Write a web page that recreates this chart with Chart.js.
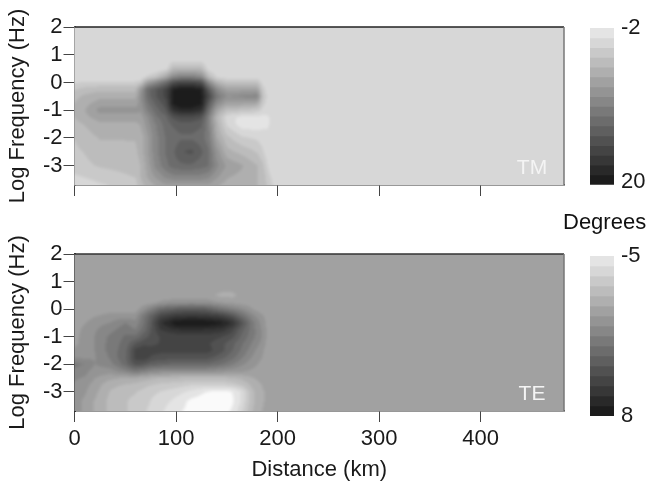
<!DOCTYPE html>
<html>
<head>
<meta charset="utf-8">
<script src="https://cdn.jsdelivr.net/npm/chart.js@4"></script>
<style>
  html, body { margin: 0; padding: 0; background: #fff; width: 648px; height: 483px; overflow: hidden; }
  canvas { position: absolute; }
  #degrees { position: absolute; left: 563px; top: 209px; font: 22px "Liberation Sans"; color: #111; white-space: nowrap; }
</style>
</head>
<body>
<canvas id="tmPanel" style="left:0;top:0"></canvas>
<canvas id="tePanel" style="left:0;top:230px"></canvas>
<canvas id="tmBar" style="left:580px;top:0"></canvas>
<canvas id="teBar" style="left:580px;top:230px"></canvas>
<div id="degrees">Degrees</div>
<script>
const xTicks = [0, 100, 200, 300, 400];
const yTicks = [2, 1, 0, -1, -2, -3];
const xMax = 482;
const yMin = -3.7;
const yMax = 2;

// one grey per colour bar band, light to dark
const bandGreys = [228, 215, 201, 188, 175, 161, 148, 135, 121, 108, 95, 81, 68, 55, 41, 28];
const belowRangeGrey = 250;
const tmLevels = [-2, -0.625, 0.75, 2.125, 3.5, 4.875, 6.25, 7.625, 9, 10.375, 11.75, 13.125, 14.5, 15.875, 17.25, 18.625, 20];
const teLevels = [-5, -4.1875, -3.375, -2.5625, -1.75, -0.9375, -0.125, 0.6875, 1.5, 2.3125, 3.125, 3.9375, 4.75, 5.5625, 6.375, 7.1875, 8];

const tmDistance = [0, 10, 25, 45, 60, 65, 72, 80, 90, 97, 105, 115, 125, 132, 140, 150, 165, 180, 185, 192, 200, 482];
const tmLogFreq = [2, 1, 0.8, 0.5, 0.2, 0, -0.25, -0.5, -0.75, -1, -1.25, -1.5, -2, -2.5, -3, -3.4, -3.7];
const tmPhase = [
  [-.6, -.6, -.6, -.6, -.6, -.6, -.6, -.6, -.6, -.6, -.6, -.6, -.6, -.6, -.6, -.6, -.6, -.6, -.6, -.6, -.6, -.6],
  [-.6, -.6, -.6, -.6, -.6, -.6, -.6, -.6, -.6, -.6, -.6, -.6, -.6, -.6, -.6, -.6, -.6, -.6, -.6, -.6, -.6, -.6],
  [-.6, -.6, -.6, -.6, -.6, -.6, -.6, -.6, -.6, .2, .2, .2, .2, -.6, -.6, -.6, -.6, -.6, -.6, -.6, -.6, -.6],
  [-.6, -.6, -.6, -.6, -.6, -.6, -.6, -.6, 0, 3, 3, 3, 3, 0, -.6, -.6, -.6, -.6, -.6, -.6, -.6, -.6],
  [-.6, -.6, -.6, -.6, -.6, -.6, 1, 2, 5, 8, 9, 9, 8, 3, .5, 0, 0, -.2, -.6, -.6, -.6, -.6],
  [.6, .9, 1, 1, 1, 1.5, 6, 8, 11, 14, 15, 15, 14, 8, 4, 2.2, 2.2, 2.2, .3, -.6, -.6, -.6],
  [2, 2.6, 3, 3, 3, 6.5, 11, 13, 15, 18.5, 19.5, 19.5, 18.5, 13, 8, 5.5, 5.5, 5.5, 1.5, -.6, -.6, -.6],
  [3, 3.8, 4.5, 4.5, 4.5, 7, 11, 13, 15, 19, 20, 20, 19, 15, 10, 7.5, 8, 8.5, 2.5, -.6, -.6, -.6],
  [3.5, 4.4, 5.5, 5.5, 5.5, 7, 10, 12, 14, 19, 20, 20, 19, 13, 8, 5.5, 5.5, 5, 1.5, -.6, -.6, -.6],
  [3.8, 4.8, 6.8, 6.8, 6.8, 6.5, 9, 11, 13, 17, 18, 18, 17, 11, 5.5, 2.5, 2.2, 1.5, .3, -.6, -.6, -.6],
  [3.5, 4.5, 5.6, 5.6, 5.6, 5.5, 7.5, 10, 11.5, 13.5, 14.5, 14.5, 13.5, 9, 3.5, 0, -1, -1, -1, -.6, -.6, -.6],
  [3, 3.6, 4.6, 4.6, 4.6, 5, 7, 9, 11, 12, 12.5, 12.5, 12, 9, 4, .5, -1.5, -1.5, -1, -.6, -.6, -.6],
  [2.2, 2.8, 3.6, 3.6, 3.6, 4, 6, 8.5, 10.5, 11, 11.5, 11.5, 11, 9.5, 5, 2.5, 1, .5, 0, -.6, -.6, -.6],
  [1.8, 2.2, 2.8, 3, 3.2, 4, 6, 8.5, 10.5, 11.5, 13, 13.5, 12, 10.5, 7, 4, 3, 2, 1, -.6, -.6, -.6],
  [1.2, 1.8, 2.3, 2.6, 2.8, 3.5, 5.5, 8, 10, 11, 11.5, 11.5, 11, 10.5, 8, 6, 5, 3.5, 2.5, 0, -.6, -.6],
  [.6, .8, 1.2, 1.8, 2.2, 3.5, 5, 6.5, 8, 8.5, 8.5, 8.5, 8.5, 8, 6.5, 5, 4.5, 3.5, 3, 1, -.6, -.6],
  [.2, .2, .6, 1, 1.5, 3, 4, 5, 6, 6, 6, 6, 6, 6, 5, 4.5, 4, 3.5, 3, 1.5, -.6, -.6]
];

const teDistance = [0, 10, 20, 35, 50, 60, 68, 75, 85, 100, 115, 130, 145, 155, 165, 175, 183, 190, 200, 482];
const teLogFreq = [2, 0.75, 0.5, 0.25, 0, -0.25, -0.5, -0.75, -1, -1.25, -1.5, -1.75, -2, -2.25, -2.5, -2.75, -3, -3.35, -3.7];
const tePhase = [
  [-.6, -.6, -.6, -.6, -.6, -.6, -.6, -.6, -.6, -.6, -.6, -.6, -.6, -.6, -.6, -.6, -.6, -.6, -.6, -.6],
  [-.6, -.6, -.6, -.6, -.6, -.6, -.6, -.6, -.6, -.6, -.6, -.6, -.6, -.6, -.6, -.6, -.6, -.6, -.6, -.6],
  [-.6, -.6, -.6, -.6, -.6, -.6, -.6, -.6, -.6, -.6, -.6, -.6, -1.2, -1.2, -.6, -.6, -.6, -.6, -.6, -.6],
  [-.6, -.6, -.6, -.6, -.6, -.6, -.6, -.6, 0, .3, .4, .3, -.2, -.4, -.6, -.6, -.6, -.6, -.6, -.6],
  [-.6, -.6, -.6, -.6, -.6, -.6, .4, 1.5, 2.8, 3.5, 3.8, 3.5, 2.2, 1.5, .8, -.1, -.6, -.6, -.6, -.6],
  [-.6, -.6, -.2, .2, .2, .2, 2, 3.2, 5, 5.8, 6, 5.8, 5.3, 4.2, 2.5, 1, .2, -.5, -.6, -.6],
  [-.5, -.2, .4, .7, 1.5, 1, 2.2, 3.8, 6.3, 7.8, 8, 7.9, 7.3, 6.3, 4.2, 1.8, .6, -.4, -.6, -.6],
  [-.5, .1, .6, 1.2, 2, 1.5, 2.6, 3.9, 5.6, 6.3, 6.4, 6.3, 6, 5, 3.3, 1.9, .8, -.3, -.6, -.6],
  [-.4, .2, .7, 1.7, 2.4, 2.5, 3.5, 4.2, 4.8, 5, 5.1, 5.2, 4.8, 4.2, 2.9, 1.8, .9, -.3, -.6, -.6],
  [-.3, .2, .7, 1.8, 2.6, 4, 4.5, 4.6, 4.8, 4.8, 4.9, 4.9, 4.2, 3.4, 2.4, 1.4, .6, -.4, -.6, -.6],
  [0, .3, .7, 1.8, 2.8, 5, 5.4, 5, 5, 5.1, 5.1, 5.1, 4.2, 3.2, 2.1, 1, .2, -.5, -.6, -.6],
  [.5, .5, .6, 1.6, 3, 5, 5.3, 4.7, 4.4, 4.3, 4.3, 4.3, 3.4, 2.6, 1.6, .6, 0, -.5, -.6, -.6],
  [1.7, 1.5, .7, 1.2, 2.7, 4.2, 4, 3.4, 3.1, 2.9, 2.9, 2.9, 2.3, 1.6, .8, .2, -.3, -.6, -.6, -.6],
  [1.3, 1, .3, .3, 1.2, 2, 1.5, 1, .8, .7, .7, .7, .4, .2, 0, -.3, -.5, -.6, -.6, -.6],
  [.8, .6, -.1, -.7, -1, -1, -1.3, -1.5, -1.8, -1.9, -2, -2, -2, -1.8, -1.5, -1, -.7, -.6, -.6, -.6],
  [.6, .2, -.5, -1.5, -1.8, -2, -2.3, -2.5, -2.8, -3, -3.3, -3.3, -3.3, -3, -2.5, -1.5, -1, -.6, -.6, -.6],
  [.4, 0, -.7, -1.8, -2.3, -2.5, -2.8, -3.2, -3.4, -3.8, -4.4, -5.2, -5.5, -5.2, -4, -2, -1.2, -.7, -.6, -.6],
  [.2, -.3, -1, -2, -2.5, -2.8, -3, -3.4, -3.7, -4.5, -5.5, -6, -6, -5.5, -4, -2, -1.2, -.7, -.6, -.6],
  [.2, -.3, -1, -2, -2.5, -2.8, -3.2, -3.6, -4, -5, -5.5, -6, -6, -5, -3.5, -1.8, -1, -.7, -.6, -.6]
];

const fontName = '"Liberation Sans"';
const fontSize = 22;
const inkColor = '#1a1a1a';

function findSpan(list, value) {
  // list may run up or down
  for (let i = 0; i < list.length - 1; i++) {
    const a = list[i];
    const b = list[i + 1];
    if ((value >= a && value <= b) || (value <= a && value >= b)) {
      return [i, (value - a) / (b - a)];
    }
  }
  return value > list[0] === list[0] > list[1] ? [0, 0] : [list.length - 2, 1];
}

function greyFor(value, levels) {
  if (value < levels[0] - 0.2) {
    return belowRangeGrey;
  }
  for (let i = 0; i < bandGreys.length; i++) {
    if (value < levels[i + 1]) {
      return bandGreys[i];
    }
  }
  return bandGreys[bandGreys.length - 1];
}

// filled contour image of the phase grid, placed through the chart scales
const contourPlugin = {
  id: 'contour',
  beforeDatasetsDraw(chart, args, opts) {
    const { ctx, chartArea: area } = chart;
    const xScale = chart.scales.x;
    const yScale = chart.scales.y;
    const margin = 3;
    const w = Math.ceil(area.right - area.left) + margin * 2;
    const h = Math.ceil(area.bottom - area.top) + margin * 2;
    const off = document.createElement('canvas');
    off.width = w;
    off.height = h;
    const offCtx = off.getContext('2d');
    const image = offCtx.createImageData(w, h);
    for (let py = 0; py < h; py++) {
      const [row, ty] = findSpan(opts.logFreq, yScale.getValueForPixel(area.top - margin + py + 0.5));
      for (let px = 0; px < w; px++) {
        const [col, tx] = findSpan(opts.distance, xScale.getValueForPixel(area.left - margin + px + 0.5));
        const top = opts.phase[row][col] * (1 - tx) + opts.phase[row][col + 1] * tx;
        const bottom = opts.phase[row + 1][col] * (1 - tx) + opts.phase[row + 1][col + 1] * tx;
        const grey = greyFor(top * (1 - ty) + bottom * ty, opts.levels);
        const k = (py * w + px) * 4;
        image.data[k] = image.data[k + 1] = image.data[k + 2] = grey;
        image.data[k + 3] = 255;
      }
    }
    offCtx.putImageData(image, 0, 0);
    ctx.save();
    ctx.beginPath();
    ctx.rect(area.left, area.top, area.right - area.left, area.bottom - area.top);
    ctx.clip();
    ctx.filter = 'blur(1.4px)';
    ctx.drawImage(off, area.left - margin, area.top - margin);
    ctx.restore();
  },
  afterDatasetsDraw(chart, args, opts) {
    const { ctx, chartArea: area } = chart;
    ctx.save();
    ctx.fillStyle = '#f4f4f4';
    ctx.font = '21px ' + fontName;
    ctx.textAlign = 'center';
    ctx.textBaseline = 'middle';
    ctx.fillText(opts.tag, area.right - 32, area.bottom - 17);
    ctx.lineWidth = 1.5;
    ctx.strokeStyle = opts.edgeTop;
    ctx.beginPath();
    ctx.moveTo(area.left, area.top);
    ctx.lineTo(area.right, area.top);
    ctx.stroke();
    ctx.strokeStyle = '#777';
    ctx.beginPath();
    ctx.moveTo(area.right, area.top);
    ctx.lineTo(area.right, area.bottom);
    ctx.stroke();
    ctx.restore();
  }
};

function drawPanel(canvasId, tag, distance, logFreq, phase, levels, size, padTop, xHeight, showX, edgeTop, leftEdge) {
  const canvas = document.getElementById(canvasId);
  canvas.width = size[0];
  canvas.height = size[1];
  const points = [];
  logFreq.forEach((y, r) => distance.forEach((x, c) => points.push({ x: x, y: y, v: phase[r][c] })));
  return new Chart(canvas, {
    type: 'scatter',
    data: { datasets: [{ data: points, pointRadius: 0, showLine: false }] },
    plugins: [contourPlugin],
    options: {
      responsive: false,
      animation: false,
      events: [],
      layout: { padding: { left: 0, right: size[0] - 564, top: padTop, bottom: 0 } },
      plugins: {
        legend: { display: false },
        tooltip: { enabled: false },
        contour: { tag: tag, distance: distance, logFreq: logFreq, phase: phase, levels: levels, edgeTop: edgeTop }
      },
      scales: {
        x: {
          type: 'linear',
          min: 0,
          max: xMax,
          afterBuildTicks: (s) => { s.ticks = xTicks.map((v) => ({ value: v })); },
          afterFit: (s) => { s.height = xHeight; },
          border: { color: '#333', width: 1.5 },
          grid: { drawOnChartArea: false, tickLength: 11, tickColor: '#444', tickWidth: 1 },
          ticks: { display: showX, color: inkColor, padding: 4, maxRotation: 0, font: { family: fontName, size: fontSize }, callback: (v) => String(v) },
          title: { display: showX, text: 'Distance (km)', color: inkColor, font: { family: fontName, size: fontSize }, padding: { top: 0, bottom: 0 } }
        },
        y: {
          type: 'linear',
          min: yMin,
          max: yMax,
          afterBuildTicks: (s) => { s.ticks = yTicks.map((v) => ({ value: v })); },
          afterFit: (s) => { s.width = 74.5; },
          border: { color: leftEdge, width: 2 },
          grid: { drawOnChartArea: false, tickLength: 11, tickColor: '#444', tickWidth: 1 },
          ticks: { color: inkColor, padding: 1, font: { family: fontName, size: fontSize }, callback: (v) => String(v) },
          title: { display: true, text: 'Log Frequency (Hz)', color: inkColor, font: { family: fontName, size: fontSize }, padding: { top: 5, bottom: 0 } }
        }
      }
    }
  });
}

function drawColourBar(canvasId, levels, tickValues, tickLabels, size, padTop, padBottom) {
  const canvas = document.getElementById(canvasId);
  canvas.width = size[0];
  canvas.height = size[1];
  const datasets = bandGreys.map((g, i) => ({
    data: [[levels[i], levels[i + 1]]],
    backgroundColor: `rgb(${g},${g},${g})`,
    borderWidth: 0,
    barPercentage: 1,
    categoryPercentage: 1
  }));
  return new Chart(canvas, {
    type: 'bar',
    data: { labels: ['phase'], datasets: datasets },
    options: {
      responsive: false,
      animation: false,
      events: [],
      layout: { padding: { left: 10, right: 0, top: padTop, bottom: padBottom } },
      plugins: { legend: { display: false }, tooltip: { enabled: false } },
      scales: {
        x: { stacked: true, display: false },
        y: {
          position: 'right',
          reverse: true,
          min: levels[0],
          max: levels[levels.length - 1],
          afterBuildTicks: (s) => { s.ticks = tickValues.map((v) => ({ value: v })); },
          afterFit: (s) => { s.width = 34; },
          border: { display: false },
          grid: { display: false, drawTicks: false },
          ticks: {
            color: inkColor,
            padding: 7,
            font: { family: fontName, size: fontSize },
            callback: (v, i) => tickLabels[i]
          }
        }
      }
    }
  });
}

drawPanel('tmPanel', 'TM', tmDistance, tmLogFreq, tmPhase, tmLevels, [580, 205], 27, 20, false, '#222', '#777');
drawPanel('tePanel', 'TE', teDistance, teLogFreq, tePhase, teLevels, [580, 253], 24, 72, true, '#333', '#333');
drawColourBar('tmBar', tmLevels, [-2, 19.6], ['-2', '20'], [68, 205], 28, 17);
drawColourBar('teBar', teLevels, [-5, 8], ['-5', '8'], [68, 253], 26, 67);
</script>
</body>
</html>
